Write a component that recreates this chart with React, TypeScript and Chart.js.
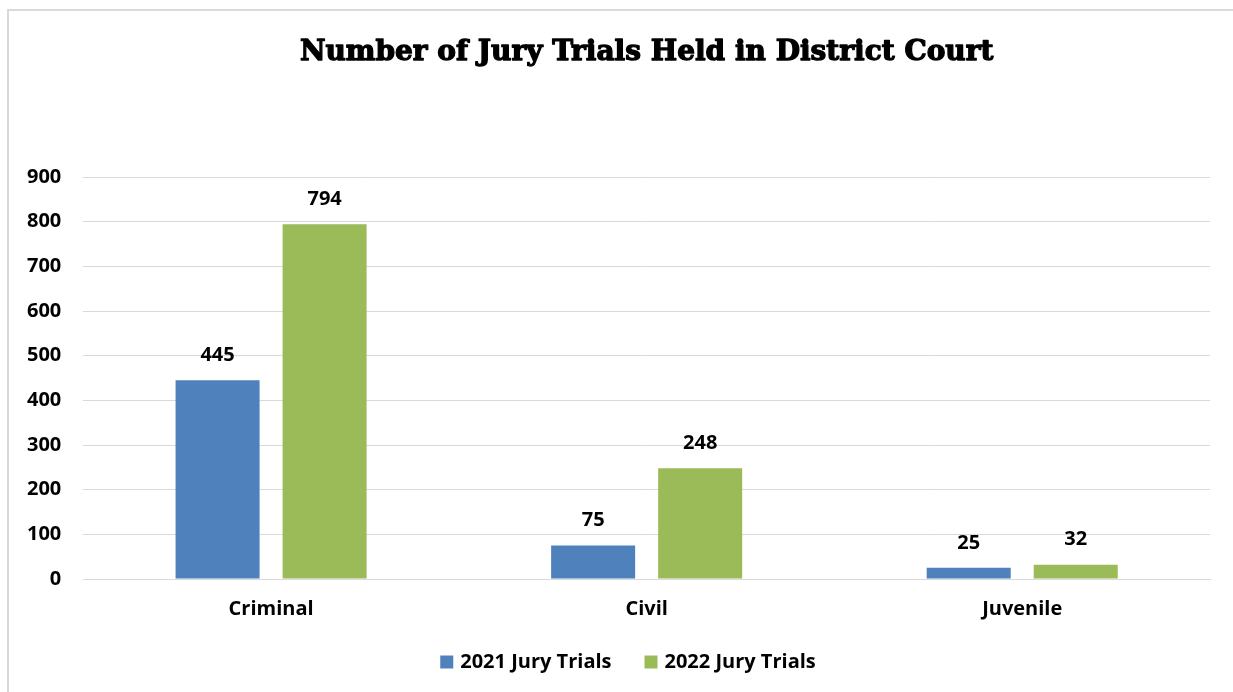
import React, { useEffect, useRef } from "react";
import { Chart, registerables } from "chart.js";

Chart.register(...registerables);

const categories = ["Criminal", "Civil", "Juvenile"];
const trials2021 = [445, 75, 25];
const trials2022 = [794, 248, 32];
const seriesLabels = ["2021 Jury Trials", "2022 Jury Trials"];
const seriesColors = ["#4F81BD", "#9BBB59"];
const yTicks = [0, 100, 200, 300, 400, 500, 600, 700, 800, 900];
const titleText = "Number of Jury Trials Held in District Court";

const LABEL_FONT = "'Open Sans', 'Liberation Sans', sans-serif";

const decorations = {
  id: "decorations",
  afterDatasetsDraw(chart: any) {
    const ctx = chart.ctx;
    ctx.save();
    ctx.font = `bold 20px ${LABEL_FONT}`;
    ctx.fillStyle = "#000";
    ctx.textAlign = "center";
    ctx.textBaseline = "middle";
    chart.data.datasets.forEach((ds: any, i: number) => {
      const meta = chart.getDatasetMeta(i);
      meta.data.forEach((bar: any, j: number) => {
        ctx.fillText(String(ds.data[j]), bar.x, bar.y - 25);
      });
    });

    // legend at the bottom
    const boxSize = 13;
    const boxGap = 7;
    const itemGap = 33;
    const widths = chart.data.datasets.map((ds: any) => ctx.measureText(ds.label).width);
    const total = widths.reduce((a: number, w: number) => a + boxSize + boxGap + w, 0) + itemGap * (widths.length - 1);
    let x = 628 - total / 2;
    const ly = 662;
    ctx.textAlign = "left";
    chart.data.datasets.forEach((ds: any, i: number) => {
      ctx.fillStyle = ds.backgroundColor;
      ctx.fillRect(x, ly - boxSize / 2, boxSize, boxSize);
      x += boxSize + boxGap;
      ctx.fillStyle = "#000";
      ctx.fillText(ds.label, x, ly);
      x += widths[i] + itemGap;
    });

    // title centred over the plot area
    ctx.textAlign = "center";
    ctx.font = "bold 28px 'DejaVu Serif', serif";
    ctx.fillStyle = "#000";
    ctx.strokeStyle = "#000";
    ctx.lineWidth = 1.3;
    ctx.lineJoin = "round";
    const tx = (chart.chartArea.left + chart.chartArea.right) / 2;
    ctx.strokeText(titleText, tx, 53);
    ctx.fillText(titleText, tx, 53);
    ctx.restore();
  },
};

export default function App() {
  const ref = useRef<HTMLCanvasElement>(null);
  useEffect(() => {
    if (!ref.current) return;
    const chart = new Chart(ref.current, {
      type: "bar",
      data: {
        labels: categories,
        datasets: [
          { label: seriesLabels[0], data: trials2021, backgroundColor: seriesColors[0] },
          { label: seriesLabels[1], data: trials2022, backgroundColor: seriesColors[1] },
        ],
      },
      options: {
        animation: false,
        responsive: false,
        maintainAspectRatio: false,
        layout: { padding: { left: 5, right: 23, top: 177, bottom: 61 } },
        datasets: { bar: { categoryPercentage: 0.57, barPercentage: 0.785 } } as any,
        plugins: {
          title: { display: false },
          legend: { display: false },
          tooltip: { enabled: false },
        },
        scales: {
          x: {
            grid: { display: false },
            border: { display: true, color: "#d9d9d9" },
            ticks: { color: "#000", font: { family: LABEL_FONT, size: 20, weight: "bold" }, padding: 10 },
          },
          y: {
            min: 0,
            max: 900,
            afterBuildTicks: (axis: any) => {
              axis.ticks = yTicks.map((v) => ({ value: v }));
            },
            grid: { color: "#d9d9d9", drawTicks: false },
            border: { display: false },
            ticks: { color: "#000", font: { family: LABEL_FONT, size: 20, weight: "bold" }, padding: 22 },
          },
        },
      },
      plugins: [decorations],
    });
    return () => chart.destroy();
  }, []);
  return (
    <div style={{ position: "absolute", left: 0, top: 0, width: 1233, height: 692, background: "#fff", overflow: "hidden" }}>
      <div
        style={{
          position: "absolute",
          left: 7,
          top: 9,
          width: 1300,
          height: 700,
          borderLeft: "2px solid #d9d9d9",
          borderTop: "2px solid #d9d9d9",
        }}
      />
      <canvas ref={ref} width={1233} height={692} style={{ position: "absolute", left: 0, top: 0 }} />
    </div>
  );
}
